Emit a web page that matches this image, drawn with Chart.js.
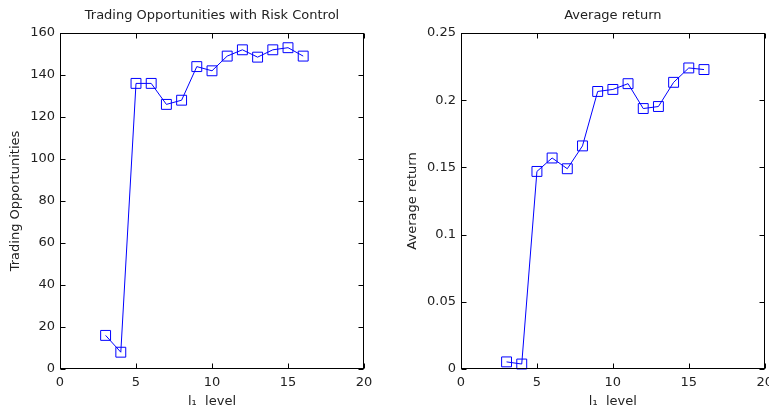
<!DOCTYPE html>
<html>
<head>
<meta charset="utf-8">
<script src="https://cdn.jsdelivr.net/npm/chart.js@4"></script>
<style>
    html, body { margin: 0; padding: 0; background: #fff; overflow: hidden; }
    canvas { position: absolute; top: 0; }
    #tradesChart { left: 0; }
    #returnChart { left: 385px; }
</style>
</head>
<body>
<canvas id="tradesChart" width="385" height="412"></canvas>
<!-- wider than the page so the last x label hangs off the edge -->
<canvas id="returnChart" width="394" height="412"></canvas>
<script>
// l1 levels tested
const levels = [3, 4, 5, 6, 7, 8, 9, 10, 11, 12, 13, 14, 15, 16];
// number of trades taken with risk control on
const tradingOpps = [16, 8, 136, 136, 126, 128, 144, 142, 149, 152, 148.5, 152, 153, 149];
// mean return per level
const avgReturn = [0.0053, 0.0037, 0.147, 0.157, 0.149, 0.166, 0.2065, 0.208, 0.2123, 0.1938, 0.1953, 0.2133, 0.224, 0.2228];

const FONT = 'DejaVu Sans';
const FSIZE = 13;

// box around the plot area with inward ticks on all four sides, plus the title
const matlabAxes = {
    id: 'matlabAxes',
    afterDraw(chart, args, opts) {
        const { ctx, chartArea: a, scales: { x, y } } = chart;
        const L = Math.round(a.left) + 0.5, R = Math.round(a.right) - 0.5;
        const T = Math.round(a.top) + 0.5, B = Math.round(a.bottom) - 0.5;
        const len = 5;
        ctx.save();
        ctx.strokeStyle = '#000';
        ctx.lineWidth = 1;
        ctx.strokeRect(L, T, R - L, B - T);
        ctx.beginPath();
        x.ticks.forEach(t => {
            const px = Math.round(x.getPixelForValue(t.value)) + 0.5;
            ctx.moveTo(px, B); ctx.lineTo(px, B - len);
            ctx.moveTo(px, T); ctx.lineTo(px, T + len);
        });
        y.ticks.forEach(t => {
            const py = Math.round(y.getPixelForValue(t.value)) + 0.5;
            ctx.moveTo(L, py); ctx.lineTo(L + len, py);
            ctx.moveTo(R, py); ctx.lineTo(R - len, py);
        });
        ctx.stroke();

        ctx.fillStyle = '#222';
        ctx.font = FSIZE + 'px "' + FONT + '"';
        ctx.textAlign = 'center';
        ctx.textBaseline = 'middle';
        ctx.fillText(opts.text, (a.left + a.right) / 2, 16);
        ctx.restore();
    }
};

function makeChart(id, data, opts) {
    const font = { family: FONT, size: FSIZE };
    new Chart(document.getElementById(id), {
        type: 'line',
        data: {
            datasets: [{
                data: levels.map((lv, i) => ({ x: lv, y: data[i] })),
                borderColor: '#0000ff',
                borderWidth: 1,
                pointStyle: 'rect',
                pointRadius: 7,
                pointHoverRadius: 7,
                pointBorderColor: '#0000ff',
                pointBackgroundColor: 'rgba(0,0,0,0)',
                pointBorderWidth: 1,
                tension: 0,
                clip: false
            }]
        },
        options: {
            responsive: false,
            animation: false,
            layout: { padding: { left: 0, top: 33, right: opts.padRight, bottom: 0 } },
            plugins: {
                legend: { display: false },
                tooltip: { enabled: false },
                matlabAxes: { text: opts.title }
            },
            scales: {
                x: {
                    type: 'linear',
                    min: 0, max: 20,
                    grid: { display: false, drawTicks: false },
                    border: { display: false },
                    ticks: { stepSize: 5, color: '#222', padding: 6, font },
                    title: { display: true, text: 'l\u2081  level', color: '#222', padding: { top: 0, bottom: 3 }, font },
                    afterFit: s => { s.height = 43; }
                },
                y: {
                    min: 0, max: opts.yMax,
                    grid: { display: false, drawTicks: false },
                    border: { display: false },
                    ticks: {
                        stepSize: opts.yStep, color: '#222', padding: 5, font,
                        callback: v => String(+v.toFixed(4))
                    },
                    title: { display: true, text: opts.yTitle, color: '#222', padding: { top: opts.yTitlePad, bottom: 0 }, font },
                    afterFit: s => { s.width = opts.yWidth; }
                }
            }
        },
        plugins: [matlabAxes]
    });
}

makeChart('tradesChart', tradingOpps, {
    title: 'Trading Opportunities with Risk Control',
    yTitle: 'Trading Opportunities',
    yMax: 160, yStep: 20, yWidth: 60, yTitlePad: 8, padRight: 21
});

makeChart('returnChart', avgReturn, {
    title: 'Average return',
    yTitle: 'Average return',
    yMax: 0.25, yStep: 0.05, yWidth: 76, yTitlePad: 20, padRight: 0
});
</script>
</body>
</html>
